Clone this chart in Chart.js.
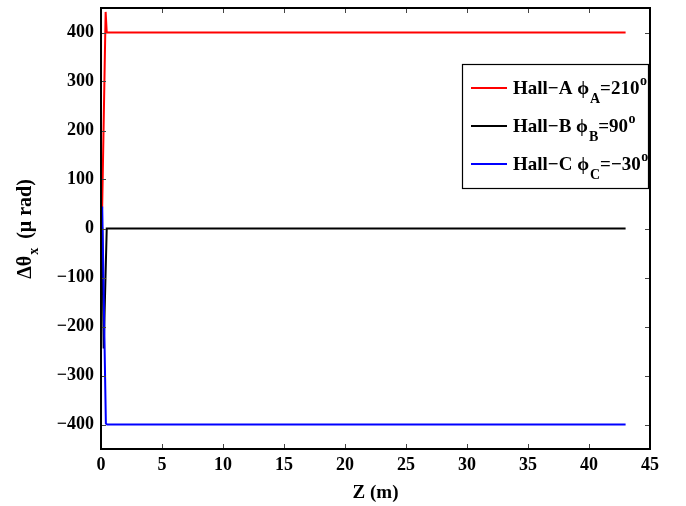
<!DOCTYPE html>
<html>
<head>
<meta charset="utf-8">
<script src="https://cdn.jsdelivr.net/npm/chart.js@4.4.1/dist/chart.umd.min.js"></script>
<style>
html,body{margin:0;padding:0;background:#fff;}
#wrap{width:686px;height:506px;position:relative;}
</style>
</head>
<body>
<div id="wrap"><canvas id="c" width="686" height="506"></canvas></div>
<script>
// ---- data ----
const seriesNames = ['Hall\u2212A', 'Hall\u2212B', 'Hall\u2212C'];
const seriesSubs = ['A', 'B', 'C'];
const seriesPhi = ['210', '90', '\u221230'];
const seriesColors = ['#ff0000', '#000000', '#0000ff'];

const zHallA = [0, 0.1, 0.38, 0.47, 43];
const dHallA = [0, 48, 442, 400, 400];
const zHallB = [0, 0.1, 0.22, 0.47, 43];
const dHallB = [0, 0, -245, 0, 0];
const zHallC = [0, 0.1, 0.4, 0.5, 43];
const dHallC = [0, 45, -398, -400, -400];

const xTicks = [0, 5, 10, 15, 20, 25, 30, 35, 40, 45];
const yTicks = [-400, -300, -200, -100, 0, 100, 200, 300, 400];

const FONT = "'Liberation Serif', 'Times New Roman', serif";

function pts(xs, ys) { return xs.map((x, i) => ({x: x, y: ys[i]})); }

const frame = {
  id: 'frame',
  afterDraw(chart) {
    const ctx = chart.ctx, a = chart.chartArea;
    const xs = chart.scales.x, ys = chart.scales.y;
    ctx.save();
    // tick marks inside on all sides
    ctx.strokeStyle = '#444';
    ctx.lineWidth = 1;
    const tl = 5;
    ctx.beginPath();
    xTicks.forEach(v => {
      const px = Math.round(xs.getPixelForValue(v)) + 0.5;
      ctx.moveTo(px, a.bottom); ctx.lineTo(px, a.bottom - tl);
      ctx.moveTo(px, a.top); ctx.lineTo(px, a.top + tl);
    });
    yTicks.forEach(v => {
      const py = Math.round(ys.getPixelForValue(v)) + 0.5;
      ctx.moveTo(a.left, py); ctx.lineTo(a.left + tl, py);
      ctx.moveTo(a.right, py); ctx.lineTo(a.right - tl, py);
    });
    ctx.stroke();
    // frame
    ctx.strokeStyle = '#000';
    ctx.lineWidth = 2;
    ctx.strokeRect(a.left, a.top, a.right - a.left, a.bottom - a.top);

    // axis titles
    ctx.fillStyle = '#000';
    ctx.textBaseline = 'alphabetic';
    ctx.font = 'bold 19px ' + FONT;
    ctx.textAlign = 'center';
    ctx.fillText('Z (m)', (a.left + a.right) / 2, 498);

    // y title rotated with subscript
    ctx.save();
    ctx.translate(31, 229);
    ctx.rotate(-Math.PI / 2);
    const p1 = '\u0394\u03b8', sub = 'x', p2 = '  (\u03bc rad)';
    ctx.font = 'bold 20px ' + FONT;
    const w1 = ctx.measureText(p1).width, w3 = ctx.measureText(p2).width;
    ctx.font = 'bold 14px ' + FONT;
    const w2 = ctx.measureText(sub).width;
    let x0 = -(w1 + w2 + w3) / 2;
    ctx.textAlign = 'left';
    ctx.font = 'bold 20px ' + FONT;
    ctx.fillText(p1, x0, 0);
    ctx.font = 'bold 14px ' + FONT;
    ctx.fillText(sub, x0 + w1 + 1, 7);
    ctx.font = 'bold 20px ' + FONT;
    ctx.fillText(p2, x0 + w1 + w2, 0);
    ctx.restore();

    // legend
    const lx = 462.5, ly = 64.5, lw = 186, lh = 124;
    ctx.fillStyle = '#fff';
    ctx.fillRect(lx, ly, lw, lh);
    ctx.strokeStyle = '#000';
    ctx.lineWidth = 1.2;
    ctx.strokeRect(lx, ly, lw, lh);
    const rows = [88, 126, 164];
    seriesNames.forEach((n, i) => {
      const y = rows[i];
      ctx.strokeStyle = seriesColors[i];
      ctx.lineWidth = 2;
      ctx.beginPath(); ctx.moveTo(471, y); ctx.lineTo(507, y); ctx.stroke();
      ctx.fillStyle = '#000';
      ctx.textAlign = 'left';
      let x = 513;
      const base = y + 6;
      ctx.font = 'bold 19px ' + FONT;
      const t1 = n + ' \u03d5';
      ctx.fillText(t1, x, base); x += ctx.measureText(t1).width + 1;
      ctx.font = 'bold 14px ' + FONT;
      ctx.fillText(seriesSubs[i], x, base + 9); x += ctx.measureText(seriesSubs[i]).width;
      ctx.font = 'bold 19px ' + FONT;
      const t2 = '=' + seriesPhi[i];
      ctx.fillText(t2, x, base); x += ctx.measureText(t2).width;
      ctx.font = 'bold 14px ' + FONT;
      ctx.fillText('o', x + 0.5, base - 9);
    });
    ctx.restore();
  }
};

new Chart(document.getElementById('c'), {
  type: 'scatter',
  data: {
    datasets: [
      {label: 'Hall-A', data: pts(zHallA, dHallA), borderColor: seriesColors[0], showLine: true, pointRadius: 0, borderWidth: 2, order: 2, tension: 0},
      {label: 'Hall-B', data: pts(zHallB, dHallB), borderColor: seriesColors[1], showLine: true, pointRadius: 0, borderWidth: 2, order: 1, tension: 0},
      {label: 'Hall-C', data: pts(zHallC, dHallC), borderColor: seriesColors[2], showLine: true, pointRadius: 0, borderWidth: 2, order: 0, tension: 0}
    ]
  },
  options: {
    responsive: false,
    animation: false,
    devicePixelRatio: 1,
    layout: {padding: {left: 0, top: 8, right: 36, bottom: 0}},
    plugins: {legend: {display: false}, tooltip: {enabled: false}},
    scales: {
      x: {
        type: 'linear', min: 0, max: 45,
        afterBuildTicks: s => { s.ticks = xTicks.map(v => ({value: v})); },
        afterFit: s => { s.height = 57; s.paddingLeft = 0; s.paddingRight = 0; },
        grid: {display: false, drawTicks: false},
        border: {display: false},
        ticks: {color: '#000', font: {family: FONT, size: 18, weight: 'bold'}, padding: 6, maxRotation: 0}
      },
      y: {
        type: 'linear', min: -450, max: 450,
        afterBuildTicks: s => { s.ticks = yTicks.map(v => ({value: v})); },
        afterFit: s => { s.width = 101; s.paddingTop = 0; s.paddingBottom = 0; },
        grid: {display: false, drawTicks: false},
        border: {display: false},
        ticks: {color: '#000', font: {family: FONT, size: 18, weight: 'bold'}, padding: 7,
          callback: v => String(v).replace('-', '\u2212')}
      }
    }
  },
  plugins: [frame]
});
</script>
</body>
</html>
